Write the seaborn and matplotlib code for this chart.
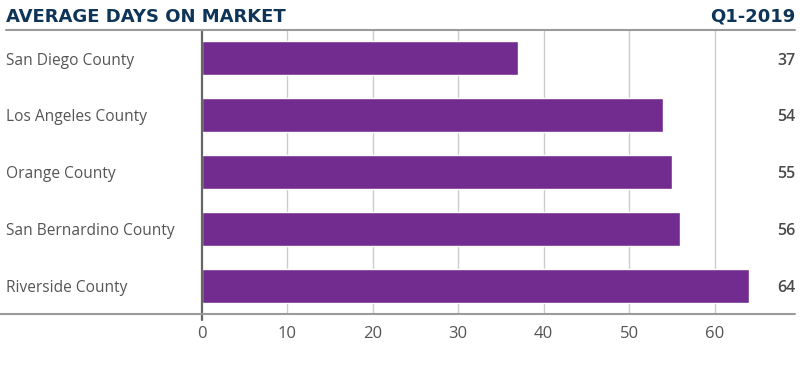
import matplotlib
matplotlib.use('Agg')
import matplotlib.pyplot as plt
import matplotlib.transforms as mtransforms
from matplotlib.lines import Line2D
import seaborn as sb
import pandas as pd

counties = ["San Diego County", "Los Angeles County", "Orange County",
            "San Bernardino County", "Riverside County"]
days = [37, 54, 55, 56, 64]
x_ticks = [0, 10, 20, 30, 40, 50, 60]

TITLE = "AVERAGE DAYS ON MARKET"
PERIOD = "Q1-2019"
PURPLE = '#722c8f'
NAVY = '#0e3457'
GREY_TEXT = '#555555'

sb.set_style('white')
plt.rcParams['font.family'] = ['Open Sans', 'DejaVu Sans']

df = pd.DataFrame({'county': counties, 'days': days})

fig = plt.figure(figsize=(8, 3.67), dpi=100)
ax = fig.add_axes([202 / 800, 1 - 314 / 367, 1 - 202 / 800, (314 - 30) / 367])

sb.barplot(data=df, x='days', y='county', color=PURPLE, width=0.6,
           saturation=1, ax=ax, zorder=3)

ax.set_xlim(0, 70)
ax.set_ylim(4.5, -0.5)
ax.set_xticks(x_ticks)
ax.set_xticklabels([str(t) for t in x_ticks], fontsize=12, color=GREY_TEXT)
ax.tick_params(axis='x', length=0, pad=9)
ax.set_yticks([])
ax.set_xlabel('')
ax.set_ylabel('')
for s in ax.spines.values():
    s.set_visible(False)

# vertical gridlines
for t in x_ticks[1:]:
    ax.axvline(t, color='#cccccc', lw=1, zorder=1)
# axis line at zero
ax.plot([0, 0], [-0.5, 4.6], color='#666666', lw=1.6, zorder=4, clip_on=False)

# category labels + values
trans = mtransforms.blended_transform_factory(fig.transFigure, ax.transData)
for i, (c, v) in enumerate(zip(counties, days)):
    ax.text(6 / 800, i + 0.04, c, transform=trans, ha='left', va='center',
            fontsize=11.2, color=GREY_TEXT)
    ax.text(795 / 800, i + 0.04, str(v), transform=trans, ha='right', va='center',
            fontsize=11.5, fontweight='semibold', color='#4a4a4a')

# title row and rules
fig.text(6 / 800, 1 - 17 / 367, TITLE, ha='left', va='center', fontsize=13,
         fontweight='bold', color=NAVY, family='DejaVu Sans')
fig.text(795 / 800, 1 - 17 / 367, PERIOD, ha='right', va='center', fontsize=13,
         fontweight='bold', color=NAVY, family='DejaVu Sans')
fig.add_artist(Line2D([6 / 800, 795 / 800], [1 - 30 / 367] * 2, color='#9a9a9a', lw=1.5))
fig.add_artist(Line2D([0, 795 / 800], [1 - 314 / 367] * 2, color='#9a9a9a', lw=1.5))

fig.savefig('out.png', dpi=100)
